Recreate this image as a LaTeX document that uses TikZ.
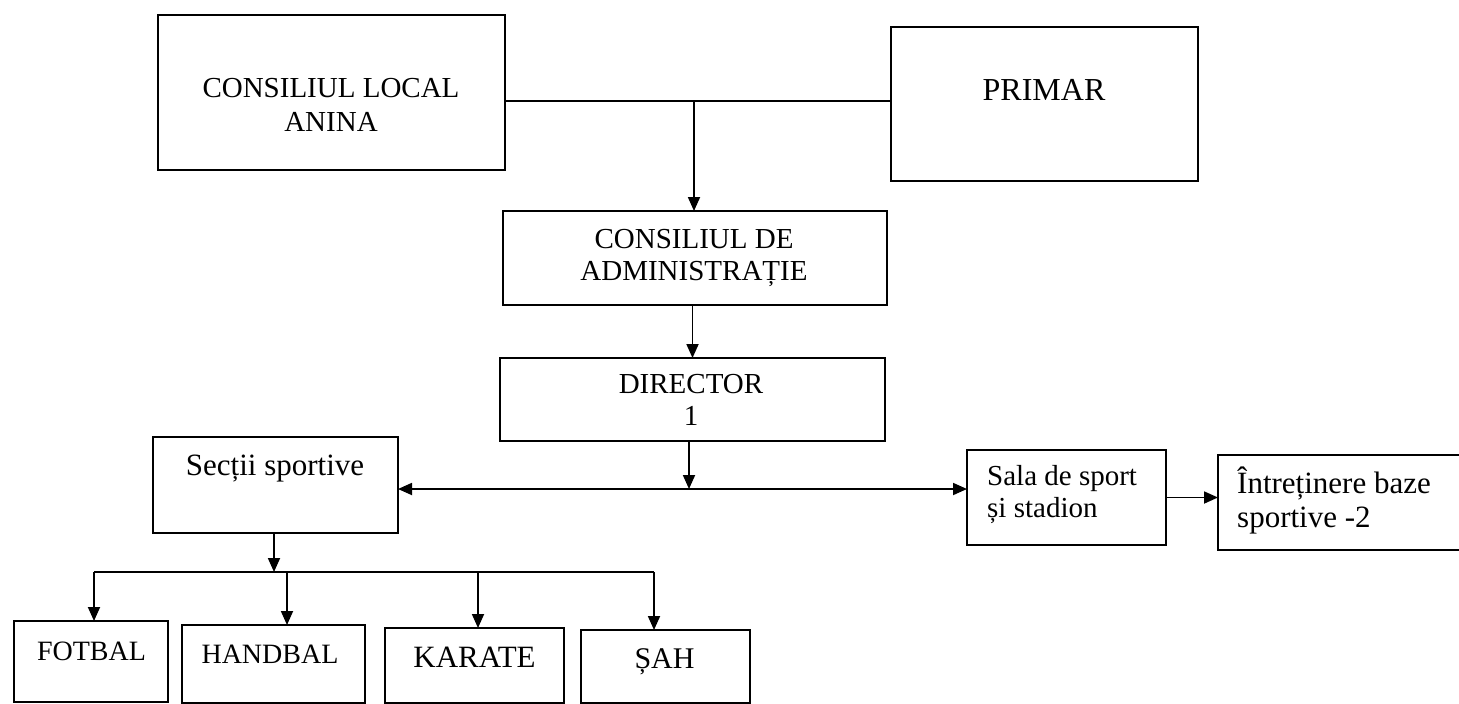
\documentclass[tikz,border=0pt]{standalone}
\usepackage{fontspec}
\setmainfont{Liberation Serif}
\usetikzlibrary{arrows.meta}
\begin{document}
\begin{tikzpicture}[x=1pt,y=-1pt,
  boxline/.style={line width=2pt},
  box/.style={draw, boxline, anchor=north west, inner sep=0pt, outer sep=0pt},
  lbl/.style={anchor=base, inner sep=0pt, font=\fontsize{29}{34}\selectfont},
  lblw/.style={lbl, anchor=base west},
  conn/.style={line width=1.8pt},
  tip/.tip={Triangle[length=14pt,width=12pt]},
  arr/.style={conn, -tip},
  darr/.style={conn, tip-tip},
]
\useasboundingbox (0,0) rectangle (1459,704);
\fill[white] (0,0) rectangle (1459,704);

% boxes
\node[box, minimum width=347pt, minimum height=155pt] (cl) at (158,15) {};
\node[box, minimum width=307pt, minimum height=154pt] (primar) at (891,27) {};
\node[box, minimum width=384pt, minimum height=94pt] (cda) at (503,211) {};
\node[box, minimum width=385pt, minimum height=83pt] (dir) at (500,358) {};
\node[box, minimum width=245pt, minimum height=96pt] (sectii) at (153,437) {};
\node[box, minimum width=199pt, minimum height=95pt] (sala) at (967,450) {};
\node[anchor=north west, inner sep=0pt, outer sep=0pt, minimum width=241pt, minimum height=95pt] (intr) at (1218,455) {};
\draw[boxline] (intr.north east) -- (intr.north west) -- (intr.south west) -- (intr.south east);
\node[box, minimum width=154pt, minimum height=81pt] (fotbal) at (14,621) {};
\node[box, minimum width=183pt, minimum height=78pt] (handbal) at (182,625) {};
\node[box, minimum width=179pt, minimum height=75pt] (karate) at (385,628) {};
\node[box, minimum width=169pt, minimum height=73pt] (sah) at (581,630) {};

% texts
\node[lbl] (tcl1) at (331,97) {CONSILIUL LOCAL};
\node[lbl] (tcl2) at (331,131) {ANINA};
\node[lbl, font=\fontsize{32}{38}\selectfont] (tpr) at (1044,100) {PRIMAR};
\node[lbl] (tcda1) at (694,248) {CONSILIUL DE};
\node[lbl] (tcda2) at (694,280) {ADMINISTRAȚIE};
\node[lbl] (tdir1) at (691,393) {DIRECTOR};
\node[lbl] (tdir2) at (691,425) {1};
\node[lbl, font=\fontsize{31}{36}\selectfont] (tsec) at (275,475) {Secții sportive};
\node[lblw] (tsala1) at (987,485) {Sala de sport};
\node[lblw] (tsala2) at (987,517) {și stadion};
\node[lblw, font=\fontsize{31}{36}\selectfont] (tintr1) at (1237,493) {Întreținere baze};
\node[lblw, font=\fontsize{31}{36}\selectfont] (tintr2) at (1237,527) {sportive -2};
\node[lbl, font=\fontsize{28}{34}\selectfont] (tfot) at (91.5,660) {FOTBAL};
\node[lbl, font=\fontsize{28}{34}\selectfont] (thand) at (270,663) {HANDBAL};
\node[lbl, font=\fontsize{31}{36}\selectfont] (tkar) at (474.5,667) {KARATE};
\node[lbl, font=\fontsize{30}{36}\selectfont] (tsah) at (664.5,668) {ȘAH};

% junctions
\coordinate (j1) at (694,101);
\coordinate (j2) at (689,489);
\coordinate (j3) at (274,572);
\coordinate (b1) at (94,572);
\coordinate (b2) at (287,572);
\coordinate (b3) at (478,572);
\coordinate (b4) at (654,572);

% connectors
\draw[conn] (cl.east |- j1) -- (primar.west |- j1);
\draw[arr] (j1) -- (cda.north -| j1);
\draw[arr] (cda.south -| dir.north) -- (dir.north);
\draw[arr] (j2 |- dir.south) -- (j2);
\draw[darr] (j2 -| sectii.east) -- (j2 -| sala.west);
\draw[arr] (sala.east) -- (sala.east -| intr.west);
\draw[arr] (sectii.south -| j3) -- (j3);
\draw[conn] (b1) -- (b4);
\draw[arr] (b1) -- (b1 |- fotbal.north);
\draw[arr] (b2) -- (b2 |- handbal.north);
\draw[arr] (b3) -- (b3 |- karate.north);
\draw[arr] (b4) -- (b4 |- sah.north);
\end{tikzpicture}
\end{document}
